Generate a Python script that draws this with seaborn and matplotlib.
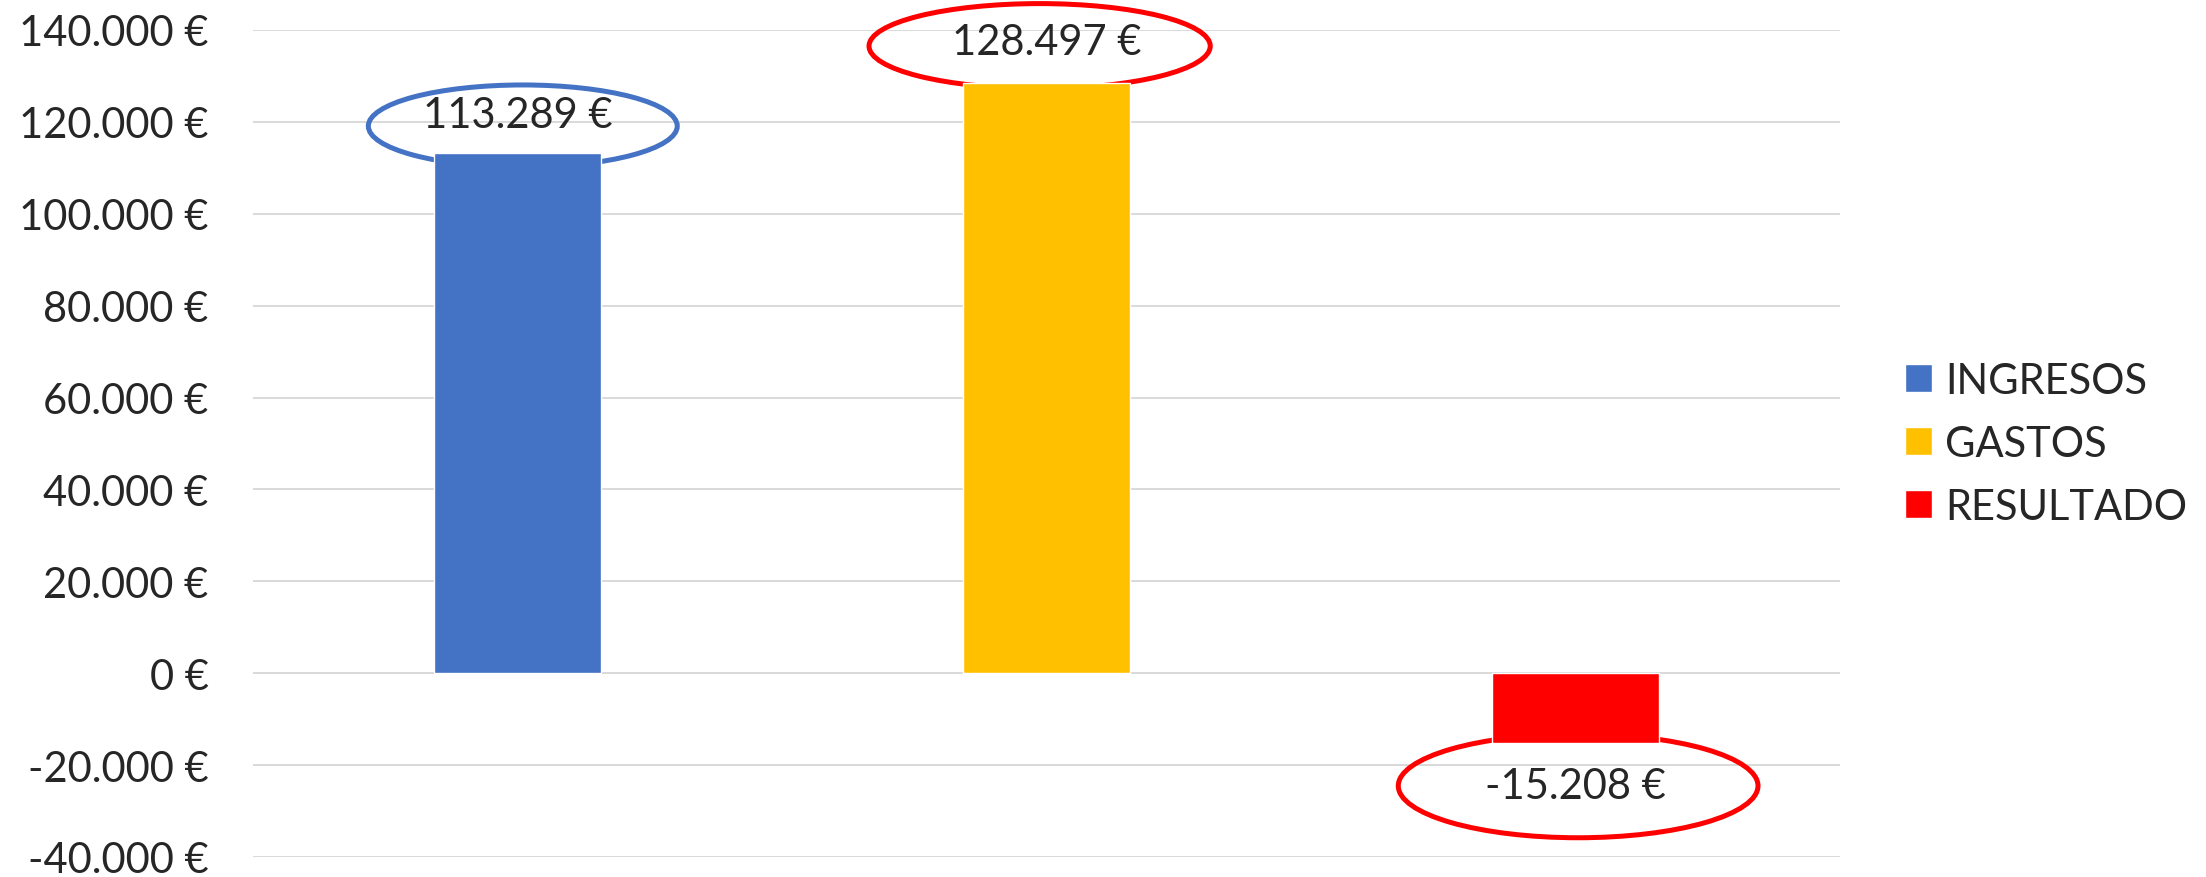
import matplotlib
matplotlib.use("Agg")
import matplotlib.pyplot as plt
import seaborn as sns
import pandas as pd
from matplotlib.patches import Ellipse
from matplotlib.ticker import FuncFormatter, MultipleLocator

sns.set_style("white")
plt.rcParams['font.family'] = ['Lato', 'DejaVu Sans']
plt.rcParams['axes.unicode_minus'] = False

categorias = ["INGRESOS", "GASTOS", "RESULTADO"]
importes = [113289, 128497, -15208]
colores = ["#4472C4", "#FFC000", "#FF0000"]
etiquetas = ["113.289 €", "128.497 €", "-15.208 €"]
color_elipse = ["#4472C4", "#FF0000", "#FF0000"]

df = pd.DataFrame({"concepto": categorias, "importe": importes})

def euros(v, pos=None):
    return f"{v:,.0f}".replace(",", ".") + " €"

fig = plt.figure(figsize=(22.06, 8.78), dpi=100)
ax = fig.add_axes([253 / 2206, 1 - 858 / 878, (1840 - 253) / 2206, (858 - 31) / 878])

sns.barplot(data=df, x="concepto", y="importe", hue="concepto",
            palette=colores, width=0.316, saturation=1, ax=ax, zorder=3,
            legend=True)

ax.set_ylim(-40000, 140000)
ax.set_xlim(-0.5, 2.5)
ax.yaxis.set_major_locator(MultipleLocator(20000))
ax.yaxis.set_major_formatter(FuncFormatter(euros))
ax.grid(axis="y", color="#D9D9D9", linewidth=1.4, zorder=0)
ax.set_axisbelow(True)
for s in ax.spines.values():
    s.set_visible(False)
ax.set_xlabel("")
ax.set_ylabel("")
ax.set_xticks([])

fs = 30
ax.tick_params(axis="y", length=0, pad=32, labelsize=fs)

# etiquetas con elipse (dibujadas a mano en el original)
offs_txt = [8200, 8800, -9300]
offs_ell = [5800, 8000, -9300]
desp_x = [0.01, -0.013, 0.005]
anchos = [0.584, 0.645, 0.68]
altos = [17900, 18500, 22600]
for i, v in enumerate(importes):
    ax.text(i, v + offs_txt[i], etiquetas[i], ha="center", va="center",
            fontsize=fs, zorder=5)
    ax.add_patch(Ellipse((i + desp_x[i], v + offs_ell[i]), anchos[i], altos[i],
                         fill=False, edgecolor=color_elipse[i], linewidth=3.6,
                         zorder=2, clip_on=False))

leg = ax.get_legend()
handles = leg.legend_handles
leg.remove()
fig.legend(handles, categorias, loc="center left",
           bbox_to_anchor=(1905 / 2206, 1 - 445 / 878), frameon=False,
           fontsize=fs, handlelength=0.65, handleheight=0.65,
           handletextpad=0.32, labelspacing=0.6, borderpad=0, borderaxespad=0)

fig.savefig("out.png", dpi=100)
